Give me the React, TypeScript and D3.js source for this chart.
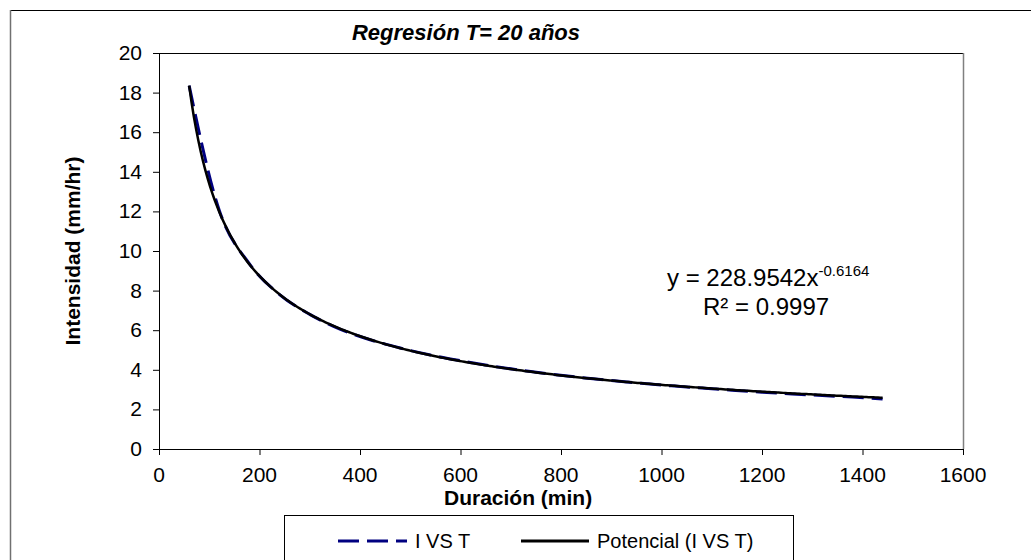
import React from "react";
import * as d3 from "d3";

const durations = [60, 120, 180, 240, 300, 360, 420, 480, 540, 600, 660, 720, 780, 840, 900, 960, 1020, 1080, 1140, 1200, 1260, 1320, 1380, 1440];
const intensities = [18.35, 12.05, 9.35, 7.8, 6.8, 6.06, 5.52, 5.1, 4.75, 4.46, 4.2, 3.98, 3.78, 3.61, 3.46, 3.32, 3.19, 3.08, 2.97, 2.87, 2.78, 2.7, 2.62, 2.53];
const fitA = 228.9542;
const fitB = -0.6164;
const xTicks = [0, 200, 400, 600, 800, 1000, 1200, 1400, 1600];
const yTicks = [0, 2, 4, 6, 8, 10, 12, 14, 16, 18, 20];

const W = 1031;
const H = 560;
const L = 159, R = 963, T = 53, B = 449;
const FONT = "'Liberation Sans', Arial, sans-serif";

export default function App() {
  const x = d3.scaleLinear().domain([0, 1600]).range([L, R]);
  const y = d3.scaleLinear().domain([0, 20]).range([B, T]);

  const dataLine = d3
    .line<number>()
    .x((_, i) => x(durations[i]))
    .y((v) => y(v))
    .curve(d3.curveMonotoneX)(intensities) as string;

  const xmin = durations[0];
  const xmax = durations[durations.length - 1];
  const fitXs = d3.range(0, 301).map((i) => xmin + ((xmax - xmin) * i) / 300);
  const fitLine = d3
    .line<number>()
    .x((d) => x(d))
    .y((d) => y(fitA * Math.pow(d, fitB)))(fitXs) as string;

  return (
    <svg
      width={W}
      height={H}
      style={{ position: "fixed", left: 0, top: 0, background: "#fff" }}
      fontFamily={FONT}
    >
      <rect x={0} y={0} width={W} height={H} fill="#fff" />
      {/* chart area border */}
      <line x1={10} y1={10.5} x2={W} y2={10.5} stroke="#000" strokeWidth={1} />
      <line x1={10.5} y1={10} x2={10.5} y2={H} stroke="#707070" strokeWidth={1.5} />

      {/* title */}
      <text x={466} y={40} textAnchor="middle" fontSize={22} fontWeight="bold" fontStyle="italic">
        Regresión T= 20 años
      </text>

      {/* plot area border */}
      <line x1={L} y1={T + 0.5} x2={R} y2={T + 0.5} stroke="#000" strokeWidth={1} />
      <line x1={R + 0.5} y1={T} x2={R + 0.5} y2={B} stroke="#808080" strokeWidth={1.5} />

      {/* axes */}
      <line x1={L} y1={B + 0.5} x2={R + 1} y2={B + 0.5} stroke="#000" strokeWidth={1} />
      <line x1={L + 0.5} y1={T} x2={L + 0.5} y2={B} stroke="#000" strokeWidth={1} />

      {yTicks.map((t) => (
        <g key={"y" + t}>
          <line x1={L - 6} x2={L} y1={y(t) + 0.5} y2={y(t) + 0.5} stroke="#000" />
          <text x={142} y={y(t) + 7} textAnchor="end" fontSize={21}>
            {t}
          </text>
        </g>
      ))}
      {xTicks.map((t) => (
        <g key={"x" + t}>
          <line x1={x(t) + 0.5} x2={x(t) + 0.5} y1={B} y2={B + 6} stroke="#000" />
          <text x={x(t)} y={482} textAnchor="middle" fontSize={21}>
            {t}
          </text>
        </g>
      ))}

      {/* axis titles */}
      <text x={444} y={505} fontSize={21} fontWeight="bold">
        Duración (min)
      </text>
      <text
        transform={`translate(80, ${(T + B) / 2}) rotate(-90)`}
        textAnchor="middle"
        fontSize={21}
        fontWeight="bold"
      >
        Intensidad (mm/hr)
      </text>

      {/* series */}
      <path d={dataLine} fill="none" stroke="#000080" strokeWidth={3} strokeDasharray="21,8" />
      <path d={fitLine} fill="none" stroke="#000" strokeWidth={2.5} />

      {/* equation */}
      <text x={667} y={286} fontSize={24}>
        y = 228.9542x
        <tspan dy={-10} fontSize={15}>-0.6164</tspan>
      </text>
      <text x={703} y={315} fontSize={24}>
        R² = 0.9997
      </text>

      {/* legend */}
      <rect x={284.5} y={515.5} width={509} height={60} fill="#fff" stroke="#000" strokeWidth={1} />
      <line x1={338} x2={407} y1={541} y2={541} stroke="#000080" strokeWidth={3} strokeDasharray="21,8" />
      <text x={415} y={548} fontSize={20}>I VS T</text>
      <line x1={521} x2={589} y1={541} y2={541} stroke="#000" strokeWidth={3} />
      <text x={597} y={548} fontSize={20}>Potencial (I VS T)</text>
    </svg>
  );
}
